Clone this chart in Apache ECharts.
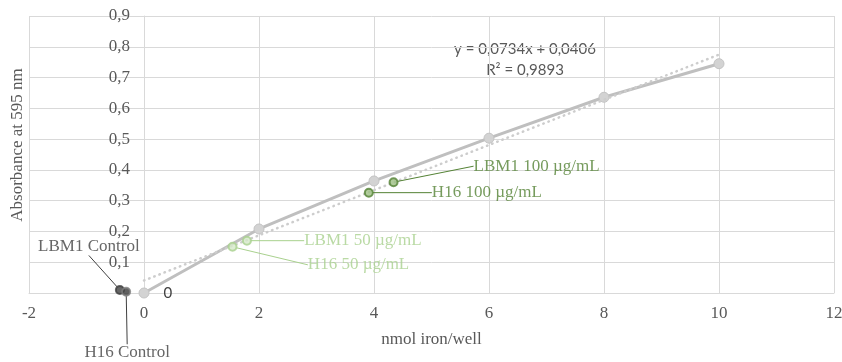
<!DOCTYPE html>
<html>
<head>
<meta charset="UTF-8" />
<title>Absorbance at 595 nm</title>
<script src="https://cdn.jsdelivr.net/npm/echarts@6/dist/echarts.min.js"></script>
<style>
	html, body { margin: 0; padding: 0; background: #fff; }
	#chart { width: 842px; height: 362px; }
</style>
</head>
<body>
<div id="chart"></div>
<script>
// standard curve (nmol iron/well vs absorbance)
var stdX = [0, 2, 4, 6, 8, 10];
var stdY = [0, 0.208, 0.364, 0.503, 0.636, 0.745];
// linear trend line, its two ends
var trendX = [0, 10];
var trendY = [0.0406, 0.7746];
var trendText = ['y = 0,0734x + 0,0406', 'R² = 0,9893'];
// samples
var sampleNames = ['LBM1 100 µg/mL', 'H16 100 µg/mL', 'LBM1 50 µg/mL', 'H16 50 µg/mL', 'LBM1 Control', 'H16 Control'];
var sampleX = [4.34, 3.91, 1.79, 1.54, -0.42, -0.31];
var sampleY = [0.36, 0.326, 0.170, 0.150, 0.010, 0.004];
// axis ticks
var xTicks = [-2, 0, 2, 4, 6, 8, 10, 12];
var yTicks = [0, 0.1, 0.2, 0.3, 0.4, 0.5, 0.6, 0.7, 0.8, 0.9];
var yTitle = 'Absorbance at 595 nm';

// look of each sample: fill, border, text colour, label offset
var sampleLook = [
	{ fill: '#9dbf83', border: '#548235', text: '#548235', dx: 143, dy: -16 },
	{ fill: '#9dbf83', border: '#548235', text: '#548235', dx: 118, dy: 0 },
	{ fill: '#d5e8c8', border: '#a9d18e', text: '#a9d18e', dx: 116, dy: 0 },
	{ fill: '#d5e8c8', border: '#a9d18e', text: '#a9d18e', dx: 126, dy: 18 },
	{ fill: '#404040', border: '#404040', text: '#404040', dx: -31, dy: -43 },
	{ fill: '#3a3a3a', border: '#808080', text: '#404040', dx: 1, dy: 61 }
];

var serif = '"Liberation Serif", "DejaVu Serif", serif';
var gridColor = '#d9d9d9';

function comma(v) {
	return String(v).replace('.', ',');
}

var stdData = stdX.map(function(x, i) {
	var item = { value: [x, stdY[i]] };
	if (i === 0) {
		item.label = {
			show: true,
			position: 'right',
			distance: 14,
			color: '#404040',
			fontFamily: 'Lato',
			fontSize: 15,
			formatter: function(p) { return comma(p.value[1]); }
		};
	}
	return item;
});

var trendData = trendX.map(function(x, i) { return [x, trendY[i]]; });

var sampleData = sampleNames.map(function(n, i) {
	var s = sampleLook[i];
	return {
		name: n,
		value: [sampleX[i], sampleY[i]],
		itemStyle: { color: s.fill, borderColor: s.border, borderWidth: 2 },
		label: { color: s.text },
		labelLine: { lineStyle: { color: s.text } }
	};
});

var myChart = echarts.init(document.getElementById('chart'));
myChart.setOption({
	animation: false,
	backgroundColor: '#fff',
	grid: { left: 29, right: 8, top: 16, bottom: 69, containLabel: false, outerBoundsMode: 'none' },
	xAxis: {
		type: 'value',
		min: xTicks[0],
		max: xTicks[xTicks.length - 1],
		interval: xTicks[1] - xTicks[0],
		name: 'nmol iron/well',
		nameLocation: 'middle',
		nameGap: 38,
		nameTextStyle: { color: '#595959', fontFamily: serif, fontSize: 17 },
		axisLine: { show: true, lineStyle: { color: gridColor } },
		axisTick: { show: false },
		axisLabel: { color: '#595959', fontFamily: serif, fontSize: 17, margin: 12, formatter: comma },
		splitLine: { show: true, lineStyle: { color: gridColor } }
	},
	yAxis: {
		type: 'value',
		min: yTicks[0],
		max: yTicks[yTicks.length - 1],
		interval: 0.1,
		position: 'left',
		// axis sits on x = 0, moved in from the grid's left edge
		offset: -115,
		axisLine: { show: true, onZero: false, lineStyle: { color: gridColor } },
		axisTick: { show: false },
		axisLabel: {
			color: '#595959', fontFamily: serif, fontSize: 17, margin: 14,
			formatter: function(v) { return v === 0 ? '' : comma(Math.round(v * 10) / 10); }
		},
		splitLine: { show: true, lineStyle: { color: gridColor } }
	},
	graphic: [
		{ type: 'text', x: 525, y: 49, style: { text: trendText[0], fill: '#595959', font: '15px Lato', align: 'center', verticalAlign: 'middle' } },
		{ type: 'text', x: 525, y: 70, style: { text: trendText[1], fill: '#595959', font: '15px Lato', align: 'center', verticalAlign: 'middle' } },
		{ type: 'text', x: 18, y: 145, rotation: Math.PI / 2, style: { text: yTitle, fill: '#595959', font: '17px "Liberation Serif"', align: 'center', verticalAlign: 'middle' } }
	],
	series: [
		{
			name: 'Standard',
			type: 'line',
			data: stdData,
			symbol: 'circle',
			symbolSize: 10,
			lineStyle: { color: '#bfbfbf', width: 3 },
			itemStyle: { color: '#d3d3d3', borderColor: '#c4c4c4', borderWidth: 1 },
			z: 2
		},
		{
			name: 'Linear',
			type: 'line',
			data: trendData,
			symbol: 'none',
			lineStyle: { color: '#cdcdcd', width: 2.5, type: [0.5, 5], cap: 'round' },
			z: 3
		},
		{
			name: 'Samples',
			type: 'scatter',
			data: sampleData,
			symbol: 'circle',
			symbolSize: 8,
			z: 4,
			label: {
				show: true,
				position: 'inside',
				fontFamily: serif,
				fontSize: 17,
				padding: [0, 4],
				formatter: '{b}'
			},
			labelLine: { show: true, lineStyle: { width: 1 } },
			labelLayout: function(p) {
				return { dx: sampleLook[p.dataIndex].dx, dy: sampleLook[p.dataIndex].dy };
			}
		}
	]
});
</script>
</body>
</html>
